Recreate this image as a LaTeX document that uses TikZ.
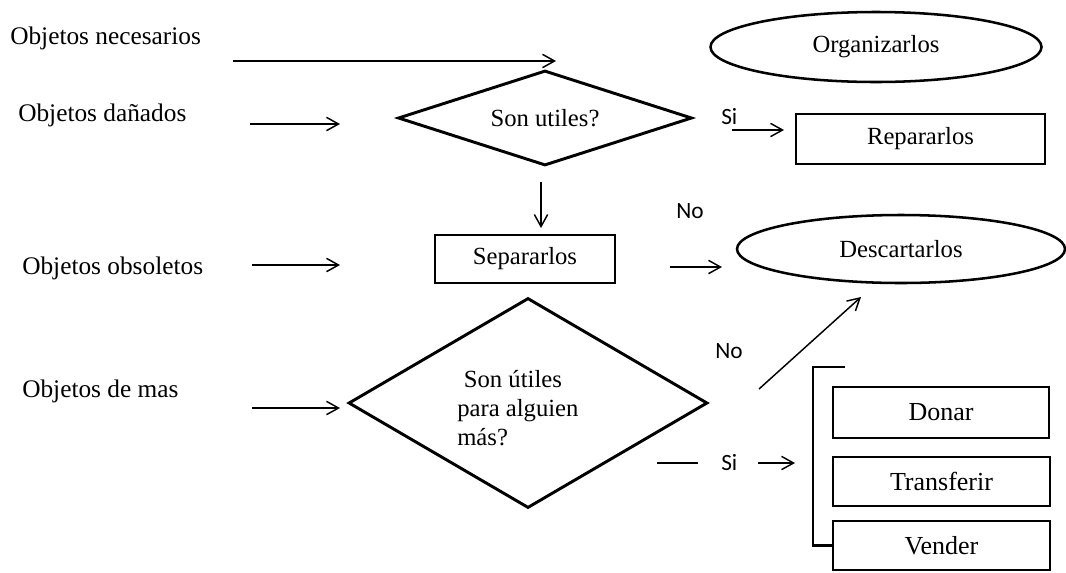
\documentclass[tikz,border=0pt]{standalone}
\usepackage{fontspec}
\setmainfont{Liberation Serif}
\newfontfamily\labelsans{Carlito}
\usetikzlibrary{shapes.geometric,arrows.meta}

\begin{document}
\begin{tikzpicture}[x=0.75pt,y=-0.75pt,
  txt/.style={font=\fontsize{18.5}{22}\selectfont, inner sep=0pt},
  bigtxt/.style={font=\fontsize{19.5}{22}\selectfont, inner sep=0pt},
  lbl/.style={font=\fontsize{19}{22}\selectfont, inner sep=0pt, anchor=base west},
  yn/.style={font=\labelsans\fontsize{17.5}{20}\selectfont, inner sep=0pt, anchor=base west},
  dims/.style 2 args={minimum width=#1*0.75pt, minimum height=#2*0.75pt},
  box/.style={draw, line width=2pt, rectangle},
  oval/.style={draw, line width=1.9pt, ellipse},
  rhomb/.style={draw, line width=2.2pt, diamond},
  flow/.style={line width=1.1pt, -{Straight Barb[length=9pt,width=10pt]}},
  plain/.style={line width=1.1pt},
  bracketline/.style={line width=2pt}
]
\useasboundingbox (0,0) rectangle (1066,572);

% item categories on the left
\node[lbl] (necesarios) at (10,44) {Objetos necesarios};
\node[lbl] (danados) at (18,121) {Objetos dañados};
\node[lbl] (obsoletos) at (22,274) {Objetos obsoletos};
\node[lbl] (demas) at (22,397) {Objetos de mas};

% decisions and actions
\node[oval, txt, dims={331}{70}] (organizar) at (876,47) {Organizarlos};
\node[rhomb, txt, shape aspect=3.1, dims={294}{95}] (utiles) at (545,118) {Son utiles?};
\node[box, txt, dims={249}{50}] (reparar) at (920.5,139) {Repararlos};
\node[box, txt, dims={180}{48}] (separar) at (525,259) {Separarlos};
\node[oval, txt, dims={328}{68}] (descartar) at (901,249) {Descartarlos};
\node[rhomb, inner sep=0pt, dims={359}{210}] (alguien) at (528,403) {};
\node[txt, anchor=west, align=left] (alguientxt) at (457,408)
  {\hspace*{5pt}Son útiles\\para alguien\\más?};

% destinations for items useful to others
\node[box, bigtxt, dims={216}{51}] (donar) at (941,412.5) {Donar};
\node[box, bigtxt, dims={217}{49}] (transferir) at (941.5,481.5) {Transferir};
\node[box, bigtxt, dims={217}{49}] (vender) at (941.5,545.5) {Vender};

% branch labels
\node[yn] (si1) at (721,124) {Si};
\node[yn] (no1) at (676,218) {No};
\node[yn] (no2) at (715,358) {No};
\node[yn] (si2) at (721,470) {Si};

% arrow end points
\coordinate (n0) at (233,61);  \coordinate (n1) at (556,61);
\coordinate (d0) at (250,124); \coordinate (d1) at (340,124);
\coordinate (o0) at (252,265); \coordinate (o1) at (340,265);
\coordinate (m0) at (252,408); \coordinate (m1) at (340,408);
\coordinate (u0) at (541,182); \coordinate (u1) at (541,228);
\coordinate (r0) at (732,130); \coordinate (r1) at (784,130);
\coordinate (s0) at (670,267); \coordinate (s1) at (722,267);
\coordinate (x0) at (759,389); \coordinate (x1) at (861,297);
\coordinate (y0) at (657,463); \coordinate (y1) at (698,463);
\coordinate (z0) at (758,463); \coordinate (z1) at (795,463);
\coordinate (brk) at (845,367);

\draw[flow] (n0) -- (n1);
\draw[flow] (d0) -- (d1);
\draw[flow] (o0) -- (o1);
\draw[flow] (m0) -- (m1);
\draw[flow] (u0) -- (u1);
\draw[flow] (r0) -- (r1);
\draw[flow] (s0) -- (s1);
\draw[flow] (x0) -- (x1);
\draw[plain] (y0) -- (y1);
\draw[flow] (z0) -- (z1);

% bracket grouping the three options
\draw[bracketline] (brk) -- ++(-32,0) |- (vender.west);
\end{tikzpicture}
\end{document}
